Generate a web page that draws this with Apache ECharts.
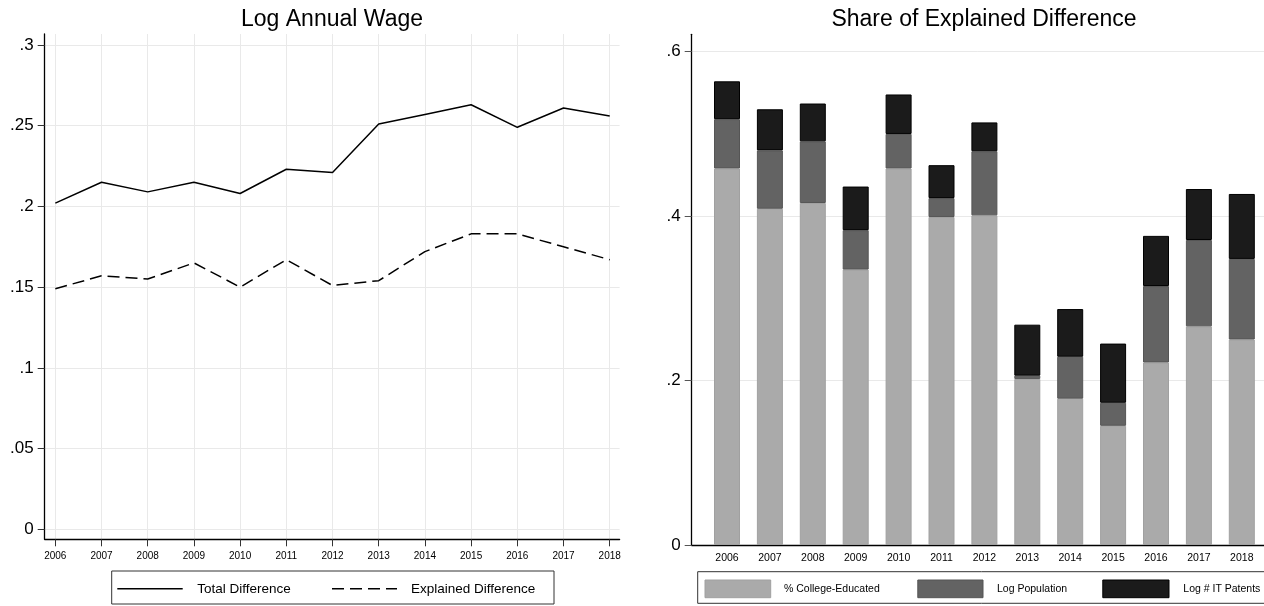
<!DOCTYPE html>
<html>
<head>
<meta charset="utf-8">
<title>Log Annual Wage and Share of Explained Difference</title>
<script src="https://cdn.jsdelivr.net/npm/echarts@6/dist/echarts.min.js"></script>
<style>
  html, body { margin: 0; padding: 0; background: #fff; }
  #chart { width: 1264px; height: 606px; }
</style>
</head>
<body>
<div id="chart"></div>
<script>
// ---- data ----
const years = [2006, 2007, 2008, 2009, 2010, 2011, 2012, 2013, 2014, 2015, 2016, 2017, 2018];

// Left panel: log annual wage gap
const totalDiff     = [0.202, 0.215, 0.209, 0.215, 0.208, 0.223, 0.221, 0.251, 0.257, 0.263, 0.249, 0.261, 0.256];
const explainedDiff = [0.149, 0.157, 0.155, 0.165, 0.150, 0.167, 0.151, 0.154, 0.172, 0.183, 0.183, 0.175, 0.167];

// Right panel: share of explained difference, by component
const collegeShare    = [0.458, 0.409, 0.416, 0.335, 0.458, 0.399, 0.401, 0.202, 0.178, 0.145, 0.222, 0.266, 0.250];
const populationShare = [0.060, 0.071, 0.075, 0.048, 0.042, 0.023, 0.078, 0.004, 0.051, 0.028, 0.093, 0.105, 0.098];
const patentsShare    = [0.046, 0.050, 0.046, 0.053, 0.048, 0.040, 0.035, 0.062, 0.058, 0.072, 0.061, 0.062, 0.079];

const leftTicks  = [0, 0.05, 0.1, 0.15, 0.2, 0.25, 0.3];
const rightTicks = [0, 0.2, 0.4, 0.6];

const leftTitle  = 'Log Annual Wage';
const rightTitle = 'Share of Explained Difference';
const lineNames  = ['Total Difference', 'Explained Difference'];
const barNames   = ['% College-Educated', 'Log Population', 'Log # IT Patents'];

// ---- styling ----
const FONT = '"Liberation Sans", Arial, Helvetica, sans-serif';
const GRID_COLOR = '#e9e9e9';
const BAR_COLORS  = ['#aaaaaa', '#636363', '#1b1b1b'];
const BAR_BORDERS = ['#a0a0a0', '#555555', '#000000'];
const DASH = [12, 6];

const fmtTick = v => {
  if (Math.abs(v) < 1e-9) return '0';
  return String(+v.toFixed(2)).replace(/^0\./, '.');
};

const hidden = { show: false };
const yLabelStyle = { fontFamily: FONT, fontSize: 17, color: '#000', margin: 11, formatter: fmtTick };
const RIGHT_Y_MAX = 0.6212;

const chart = echarts.init(document.getElementById('chart'), null, { renderer: 'canvas' });

const zip = (xs, ys) => xs.map((x, i) => [x, ys[i]]);
const yearLabels = years.map(String);

chart.setOption({
  animation: false,
  backgroundColor: '#fff',
  grid: [
    // left panel: frame/data, y ticks, x ticks
    { left: 44.7, right: 644.4, top: 34, bottom: 66.7 },
    { left: 44.7, right: 644.4, top: 45, bottom: 76.7 },
    { left: 55.3, right: 654.3, top: 34, bottom: 66.7 },
    // right panel: frame, bars, y ticks
    { left: 691.7, right: 0, top: 34.3, bottom: 61 },
    { left: 705.55, right: 0.75, top: 34.3, bottom: 61 },
    { left: 691.7, right: 0, top: 51.7, bottom: 61 }
  ],
  xAxis: [
    // 0: left y-tick grid (hidden x)
    { gridIndex: 1, type: 'value', min: 0, max: 1, show: false },
    // 1: left year ticks, labels and vertical grid lines
    { gridIndex: 2, type: 'value', min: years[0], max: years[years.length - 1], interval: 1,
      axisLine: hidden,
      axisTick: { show: true, length: 7, lineStyle: { color: '#333', width: 1 } },
      axisLabel: { fontFamily: FONT, fontSize: 10, color: '#000', margin: 12, formatter: v => String(v) },
      splitLine: { show: true, lineStyle: { color: GRID_COLOR, width: 1 } } },
    // 2: right year categories (bars + labels)
    { gridIndex: 4, type: 'category', data: yearLabels,
      axisLine: hidden, axisTick: hidden,
      axisLabel: { fontFamily: FONT, fontSize: 10.5, color: '#000', margin: 8, interval: 0 },
      splitLine: hidden },
    // 3: right y-tick grid (hidden x)
    { gridIndex: 5, type: 'value', min: 0, max: 1, show: false },
    // 4: left data axis
    { gridIndex: 0, type: 'value', min: 2005.77, max: 2018.214,
      axisLine: { show: true, onZero: false, lineStyle: { color: '#000', width: 1.3 } },
      axisTick: hidden, axisLabel: hidden, splitLine: hidden },
    // 5: right frame axis
    { gridIndex: 3, type: 'value', min: 0, max: 1,
      axisLine: { show: true, onZero: false, lineStyle: { color: '#000', width: 1.3 } },
      axisTick: hidden, axisLabel: hidden, splitLine: hidden }
  ],
  yAxis: [
    // 0: left y ticks/labels/horizontal grid
    { gridIndex: 1, type: 'value', min: leftTicks[0], max: leftTicks[leftTicks.length - 1], interval: 0.05,
      axisLine: hidden,
      axisTick: { show: true, length: 7, lineStyle: { color: '#333', width: 1 } },
      axisLabel: yLabelStyle,
      splitLine: { show: true, lineStyle: { color: GRID_COLOR, width: 1 } } },
    // 1: left x-tick grid (hidden y)
    { gridIndex: 2, type: 'value', min: 0, max: 1, show: false },
    // 2: right bar values
    { gridIndex: 4, type: 'value', min: 0, max: RIGHT_Y_MAX, show: false },
    // 3: right y ticks/labels/horizontal grid
    { gridIndex: 5, type: 'value', min: rightTicks[0], max: rightTicks[rightTicks.length - 1], interval: 0.2,
      axisLine: hidden,
      axisTick: { show: true, length: 7, lineStyle: { color: '#555', width: 1 } },
      axisLabel: yLabelStyle,
      splitLine: { show: true, lineStyle: { color: GRID_COLOR, width: 1 } } },
    // 4: left data axis
    { gridIndex: 0, type: 'value', min: -0.0062, max: 0.3068,
      axisLine: { show: true, onZero: false, lineStyle: { color: '#000', width: 1.3 } },
      axisTick: hidden, axisLabel: hidden, splitLine: hidden },
    // 5: right frame axis
    { gridIndex: 3, type: 'value', min: 0, max: RIGHT_Y_MAX,
      axisLine: { show: true, onZero: false, lineStyle: { color: '#000', width: 1.3 } },
      axisTick: hidden, axisLabel: hidden, splitLine: hidden }
  ],
  series: [
    { name: lineNames[0], type: 'line', xAxisIndex: 4, yAxisIndex: 4,
      data: zip(years, totalDiff), showSymbol: false, symbol: 'none',
      lineStyle: { color: '#000', width: 1.5 }, z: 5 },
    { name: lineNames[1], type: 'line', xAxisIndex: 4, yAxisIndex: 4,
      data: zip(years, explainedDiff), showSymbol: false, symbol: 'none',
      lineStyle: { color: '#000', width: 1.5, type: DASH }, z: 5 },
    { name: barNames[0], type: 'bar', xAxisIndex: 2, yAxisIndex: 2, stack: 'share',
      data: collegeShare, barWidth: 26,
      itemStyle: { color: BAR_COLORS[0], borderColor: BAR_BORDERS[0], borderWidth: 1 }, z: 3 },
    { name: barNames[1], type: 'bar', xAxisIndex: 2, yAxisIndex: 2, stack: 'share',
      data: populationShare, barWidth: 26,
      itemStyle: { color: BAR_COLORS[1], borderColor: BAR_BORDERS[1], borderWidth: 1 }, z: 3 },
    { name: barNames[2], type: 'bar', xAxisIndex: 2, yAxisIndex: 2, stack: 'share',
      data: patentsShare, barWidth: 26,
      itemStyle: { color: BAR_COLORS[2], borderColor: BAR_BORDERS[2], borderWidth: 1 }, z: 3 }
  ],
  graphic: [
    // panel titles
    { type: 'text', x: 332, y: 19.5, z: 10,
      style: { text: leftTitle, font: '23px ' + FONT, fill: '#000', align: 'center', verticalAlign: 'middle' } },
    { type: 'text', x: 984, y: 19.5, z: 10,
      style: { text: rightTitle, font: '23px ' + FONT, fill: '#000', align: 'center', verticalAlign: 'middle' } },

    // left legend
    { type: 'rect', shape: { x: 111.7, y: 571, width: 442.3, height: 33 }, z: 10,
      style: { fill: '#fff', stroke: '#333', lineWidth: 1 } },
    { type: 'line', shape: { x1: 117.3, y1: 588.7, x2: 182.7, y2: 588.7 }, z: 11,
      style: { stroke: '#000', lineWidth: 1.5 } },
    { type: 'text', x: 197.3, y: 589, z: 11,
      style: { text: lineNames[0], font: '13.5px ' + FONT, fill: '#000', align: 'left', verticalAlign: 'middle' } },
    { type: 'line', shape: { x1: 332, y1: 588.7, x2: 397, y2: 588.7 }, z: 11,
      style: { stroke: '#000', lineWidth: 1.5, lineDash: DASH } },
    { type: 'text', x: 411, y: 589, z: 11,
      style: { text: lineNames[1], font: '13.5px ' + FONT, fill: '#000', align: 'left', verticalAlign: 'middle' } },

    // right legend
    { type: 'rect', shape: { x: 697.7, y: 571.7, width: 600, height: 31.6 }, z: 10,
      style: { fill: '#fff', stroke: '#333', lineWidth: 1 } },
    { type: 'rect', shape: { x: 705, y: 580, width: 65.7, height: 17.7 }, z: 11,
      style: { fill: BAR_COLORS[0], stroke: BAR_BORDERS[0], lineWidth: 1 } },
    { type: 'text', x: 784, y: 589, z: 11,
      style: { text: barNames[0], font: '10.5px ' + FONT, fill: '#000', align: 'left', verticalAlign: 'middle' } },
    { type: 'rect', shape: { x: 917.8, y: 580, width: 65.2, height: 17.7 }, z: 11,
      style: { fill: BAR_COLORS[1], stroke: BAR_BORDERS[1], lineWidth: 1 } },
    { type: 'text', x: 997, y: 589, z: 11,
      style: { text: barNames[1], font: '10.5px ' + FONT, fill: '#000', align: 'left', verticalAlign: 'middle' } },
    { type: 'rect', shape: { x: 1102.8, y: 580, width: 66.2, height: 17.7 }, z: 11,
      style: { fill: BAR_COLORS[2], stroke: BAR_BORDERS[2], lineWidth: 1 } },
    { type: 'text', x: 1183.3, y: 589, z: 11,
      style: { text: barNames[2], font: '10.5px ' + FONT, fill: '#000', align: 'left', verticalAlign: 'middle' } }
  ]
});
</script>
</body>
</html>
